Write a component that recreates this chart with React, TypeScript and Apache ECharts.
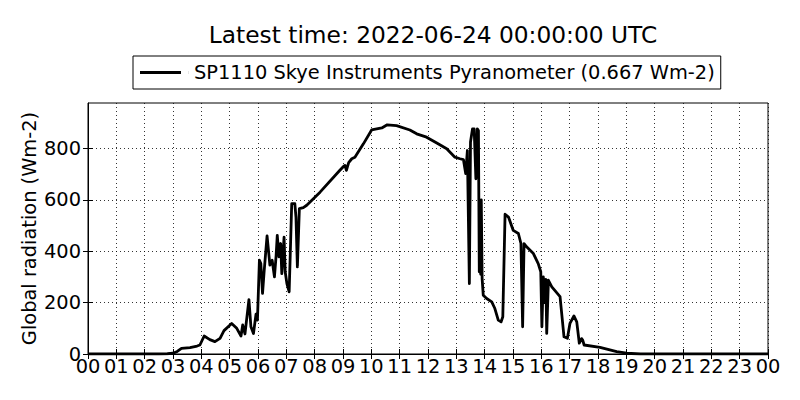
import { useEffect, useRef } from "react";
import * as echarts from "echarts";

const TITLE = "Latest time: 2022-06-24 00:00:00 UTC";
const SERIES_NAME = "SP1110 Skye Instruments Pyranometer (0.667 Wm-2)";
const Y_LABEL = "Global radiation (Wm-2)";
const FONT = "DejaVu Sans";

const hours = [
  0, 2.5, 2.8, 3.0, 3.15, 3.3, 3.6, 3.85, 3.95, 4.1, 4.3, 4.48, 4.66, 4.8, 5.07, 5.25, 5.4, 5.46, 5.54,
  5.68, 5.75, 5.84, 5.93, 5.98, 6.05, 6.1, 6.16, 6.22, 6.32, 6.42, 6.5, 6.58, 6.64, 6.68, 6.74, 6.8,
  6.84, 6.92, 6.96, 7.02, 7.1, 7.19, 7.3, 7.34, 7.39, 7.46, 7.6, 7.72, 8.19, 8.89, 9.0, 9.07, 9.12, 9.2,
  9.31, 9.42, 9.72, 10.01, 10.37, 10.56, 10.89, 11.36, 11.6, 11.95, 12.31, 12.66, 12.95, 13.13, 13.25,
  13.33, 13.39, 13.46, 13.5, 13.57, 13.63, 13.69, 13.74, 13.78, 13.81, 13.84, 13.86, 13.88, 13.91,
  13.95, 14.07, 14.25, 14.36, 14.48, 14.58, 14.64, 14.72, 14.84, 15.01, 15.19, 15.28, 15.34, 15.39,
  15.48, 15.72, 15.89, 15.98, 16.02, 16.07, 16.12, 16.16, 16.19, 16.25, 16.37, 16.66, 16.8, 16.92,
  17.01, 17.15, 17.25, 17.34, 17.42, 17.46, 17.51, 18.07, 18.66, 19.01, 19.5, 24,
];
const radiation = [
  0, 0, 1, 3, 10, 22, 25, 31, 35, 70, 56, 48, 61, 91, 119, 100, 70, 113, 78,
  212, 106, 80, 155, 132, 365, 352, 236, 326, 460, 346, 365, 300, 384, 462, 378, 430,
  313, 455, 320, 274, 242, 585, 585, 533, 339, 566, 570, 579, 630, 715, 728, 734, 715, 745,
  760, 766, 818, 872, 880, 892, 889, 872, 857, 844, 821, 799, 766, 760, 757,
  702, 792, 274, 825, 876, 876, 682, 876, 870, 320, 598, 310, 600, 294,
  229, 216, 203, 177, 132, 125, 145, 544, 533, 481, 469, 430, 106, 430,
  417, 391, 352, 320, 106, 300, 200, 290, 80, 287, 261, 223, 67, 61,
  119, 148, 125, 42, 60, 54, 35, 26, 9, 3, 0, 0,
];
const Y_TICKS = [0, 200, 400, 600, 800];
const X_MIN = 0;
const X_MAX = 24;
const Y_MAX = 977;

export default function App() {
  const ref = useRef<HTMLDivElement>(null);
  useEffect(() => {
    const chart = echarts.init(ref.current!, null, { renderer: "svg" });
    const tick = { show: true, inside: true, length: 5, lineStyle: { color: "#000", width: 1 } };
    const dotted = { show: true, lineStyle: { color: "#000", width: 0.8, type: [1, 3] } };
    chart.setOption({
      animation: false,
      backgroundColor: "#fff",
      title: {
        text: TITLE,
        left: 428,
        top: 18,
        textAlign: "center",
        textStyle: { fontFamily: FONT, fontSize: 23.3, fontWeight: "normal", color: "#000" },
      },
      legend: {
        left: 133,
        top: 56,
        padding: [7, 6, 7, 7],
        borderColor: "#000",
        borderWidth: 1,
        borderRadius: 0,
        itemWidth: 49,
        itemHeight: 3,
        selectedMode: false,
        icon: "path://M0,0H41V3H0Z M48.9,0H49V3H48.9Z",
        data: [{ name: SERIES_NAME }],
        textStyle: { fontFamily: FONT, fontSize: 19.4, color: "#000" },
      },
      grid: {
        left: 88,
        top: 103,
        width: 680,
        height: 251,
        show: true,
        borderColor: "#000",
        borderWidth: 1,
        backgroundColor: "transparent",
      },
      xAxis: [
        {
          type: "value",
          min: X_MIN,
          max: X_MAX,
          interval: 1,
          position: "bottom",
          axisLine: { show: true, lineStyle: { color: "#000" } },
          axisTick: tick,
          splitLine: dotted,
          axisLabel: {
            margin: 3,
            fontFamily: FONT,
            fontSize: 19.4,
            color: "#000",
            formatter: (v: number) => String(Math.round(v) % 24).padStart(2, "0"),
          },
        },
        {
          type: "value",
          min: X_MIN,
          max: X_MAX,
          interval: 1,
          position: "top",
          axisLine: { show: false },
          axisTick: tick,
          splitLine: { show: false },
          axisLabel: { show: false },
        },
      ],
      yAxis: [
        {
          type: "value",
          min: 0,
          max: Y_MAX,
          interval: 200,
          position: "left",
          name: Y_LABEL,
          nameLocation: "middle",
          nameGap: 49,
          nameMoveOverlap: false,
          nameTextStyle: { fontFamily: FONT, fontSize: 19.4, color: "#000" },
          axisLine: { show: true, lineStyle: { color: "#000" } },
          axisTick: { ...tick, customValues: Y_TICKS },
          splitLine: dotted,
          axisLabel: {
            margin: 7,
            fontFamily: FONT,
            fontSize: 19.4,
            color: "#000",
            customValues: Y_TICKS,
            formatter: (v: number) => (Y_TICKS.includes(v) ? String(v) : ""),
          },
        },
        {
          type: "value",
          min: 0,
          max: Y_MAX,
          interval: 200,
          position: "right",
          axisLine: { show: false },
          axisTick: { ...tick, customValues: Y_TICKS },
          splitLine: { show: false },
          axisLabel: { show: false },
        },
      ],
      series: [
        {
          name: SERIES_NAME,
          type: "line",
          xAxisIndex: 0,
          yAxisIndex: 0,
          showSymbol: false,
          symbol: "none",
          color: "#000",
          lineStyle: { color: "#000", width: 2.8, join: "round" },
          data: hours.map((h, i) => [h, radiation[i]]),
        },
      ],
    });
    return () => chart.dispose();
  }, []);
  return (
    <div
      ref={ref}
      style={{ position: "absolute", left: 0, top: 0, width: 800, height: 400 }}
    />
  );
}
